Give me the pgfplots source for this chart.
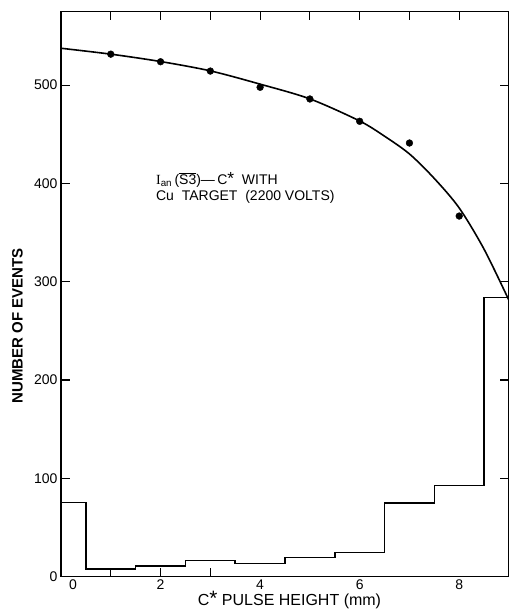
\documentclass[border=0pt]{standalone}
\usepackage{fontspec}
\setmainfont{Liberation Sans}
\newfontfamily\seriffont{Liberation Serif}
\usepackage{pgfplots}
\pgfplotsset{compat=1.18}
\pgfplotsset{
  base/.style={
    at={(0pt,0pt)}, anchor=south west,
    scale only axis, width=448pt, height=565.1pt,
    xmin=0, xmax=9, ymin=0, ymax=574.9,
    axis line style={line width=1.3pt},
    tick align=inside, major tick length=9pt,
    every tick/.style={line width=1.1pt, black},
    /pgf/number format/assume math mode=true,
    ticklabel style={font=\fontsize{14}{16}\selectfont},
  }
}
\begin{document}
\begin{tikzpicture}
\useasboundingbox (-61pt,-37.4pt) rectangle (448pt,576.6pt);
% main axis with data
\begin{axis}[base,
  xtick={1,...,8}, xtick pos=upper, xticklabels={},
  ytick={0,100,200,300,400,500}, ytick pos=both, yticklabel pos=left,
  ylabel={\bfseries NUMBER OF EVENTS},
  ylabel style={font=\fontsize{15}{17}\selectfont, at={(axis description cs:-0.097,0.4435)}, anchor=center},
]
% fitted curve
\addplot[black, line width=1.6pt, smooth] coordinates {
  (0,537.5) (1,531.5) (2,524) (3,514.5) (4,501) (5,486) (6,463.5)
  (6.5,448) (7,430) (7.5,405) (8,375) (8.5,333) (9,281)
};
% measured points
\addplot[only marks, mark=*, mark size=3.4pt, black] coordinates {
  (1,531.5) (2,523.8) (3,514.3) (4,497.8) (5,485.9) (6,463.2) (7,441.1) (8,366.8)
};
% histogram
\addplot[black, line width=1.6pt, const plot mark left] coordinates {
  (0,75.2) (0.5,8) (1.5,10.5) (2.5,16.5) (3.5,13.5) (4.5,19.5) (5.5,24.5)
  (6.5,74.6) (7.5,92.5) (8.5,284) (9,284)
};
\node[anchor=west, font=\fontsize{14}{16}\selectfont] at (axis cs:1.84,403.5)
  {{\seriffont I}\textsubscript{an}\,($\overline{\mbox{S3}}$)---\,C\scalebox{1.25}{*}~~WITH};
\node[anchor=west, font=\fontsize{14}{16}\selectfont] at (axis cs:1.84,386.5)
  {Cu~~TARGET~~(2200~VOLTS)};
\end{axis}
% bottom tick labels
\begin{axis}[base,
  xtick={0,2,4,6,8}, xticklabels={\hspace{24pt}0,2,4,6,8},
  xtick pos=lower, major tick length=0pt, ytick=\empty,
  xlabel={C\scalebox{1.3}{*} PULSE HEIGHT (mm)},
  xlabel style={font=\fontsize{16}{18}\selectfont, at={(axis description cs:0.51,-0.0407)}, anchor=center},
]
\end{axis}
% bottom ticks at 1,2,3
\begin{axis}[base,
  xtick={1,2,3}, xticklabels={}, xtick pos=lower, ytick=\empty,
]
\end{axis}
\end{tikzpicture}
\end{document}
